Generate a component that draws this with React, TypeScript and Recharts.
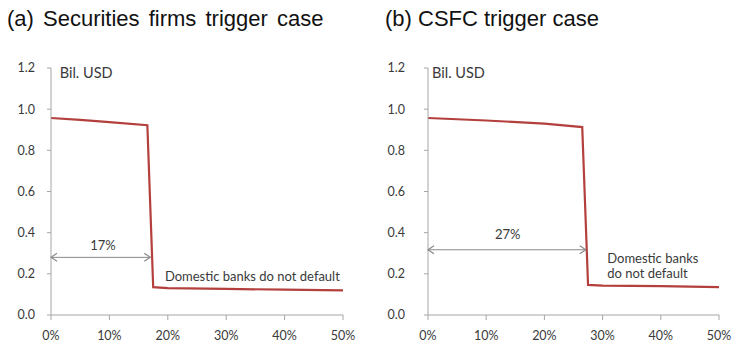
import React from 'react';
import { LineChart, Line, XAxis, YAxis, ReferenceDot } from 'recharts';

// Loss (Bil. USD) against the shock size (%), two trigger cases
const securitiesShock = [0, 5, 10, 16.5, 17.5, 20, 30, 40, 50];
const securitiesLoss = [0.957, 0.948, 0.937, 0.922, 0.135, 0.131, 0.127, 0.123, 0.12];
const csfcShock = [0, 10, 20, 26.5, 27.5, 30, 40, 50];
const csfcLoss = [0.957, 0.945, 0.93, 0.913, 0.146, 0.143, 0.14, 0.135];

const securitiesThreshold = 17;
const csfcThreshold = 27.1;

const yTicks = [0, 0.2, 0.4, 0.6, 0.8, 1.0, 1.2];
const xTicks = [0, 10, 20, 30, 40, 50];

const titles = ['(a) Securities firms trigger case', '(b) CSFC trigger case'];
const unitLabel = 'Bil. USD';
const noDefaultLabel = 'Domestic banks do not default';
const noDefaultLines = ['Domestic banks', 'do not default'];

const toPoints = (xs: number[], ys: number[]) => xs.map((x, i) => ({ x, y: ys[i] }));

const LINE = '#b3403d';
const AXIS = '#a6a6a6';
const TEXT = '#3a3a3a';
const ARROW = '#8a8a8a';
const FONT = 'Lato, "Open Sans", sans-serif';

const textLabel = (text: string, anchor: 'start' | 'middle' | 'end', size = 13) =>
  (props: any) => {
    const vb = props.viewBox || {};
    return (
      <text x={vb.x} y={vb.y} dy="0.35em" textAnchor={anchor} fill={TEXT} fontSize={size} fontFamily={FONT}>
        {text}
      </text>
    );
  };

const chevronDot = (props: any) => {
  const { cx, cy, index } = props;
  const d = index === 0
    ? `M${cx + 6},${cy - 4} L${cx},${cy} L${cx + 6},${cy + 4}`
    : `M${cx - 6},${cy - 4} L${cx},${cy} L${cx - 6},${cy + 4}`;
  return <path key={`chev-${index}`} d={d} fill="none" stroke={ARROW} strokeWidth={1.2} />;
};

const tickStyle = { fill: TEXT, fontSize: 12.5, fontFamily: FONT };

type PanelProps = {
  width: number;
  left: number;
  yAxisWidth: number;
  yTickMargin: number;
  rightMargin: number;
  data: { x: number; y: number }[];
  threshold: number;
  arrowY: number;
  pctLabel: { x: number; y: number };
  unitPos: { x: number; y: number };
  notes: { x: number; y: number; text: string }[];
};

function Panel(p: PanelProps) {
  const arrow = [
    { x: 0, y: p.arrowY },
    { x: p.threshold, y: p.arrowY },
  ];
  return (
    <div style={{ position: 'absolute', left: p.left, top: 0 }}>
      <LineChart
        width={p.width}
        height={346}
        margin={{ top: 68, right: p.rightMargin, bottom: 6, left: 11 }}
      >
        <XAxis
          type="number"
          dataKey="x"
          domain={[0, 50]}
          ticks={xTicks}
          tickFormatter={(v: number) => `${v}%`}
          axisLine={{ stroke: AXIS }}
          tickLine={{ stroke: AXIS }}
          tickSize={5}
          tickMargin={11}
          height={25}
          tick={tickStyle}
          interval={0}
        />
        <YAxis
          type="number"
          domain={[0, 1.2]}
          ticks={yTicks}
          tickFormatter={(v: number) => v.toFixed(1)}
          axisLine={{ stroke: AXIS }}
          tickLine={{ stroke: AXIS }}
          tickSize={4}
          tickMargin={p.yTickMargin}
          width={p.yAxisWidth}
          tick={tickStyle}
          interval={0}
        />
        <Line
          data={arrow}
          dataKey="y"
          stroke={ARROW}
          strokeWidth={1}
          dot={chevronDot}
          activeDot={false}
          isAnimationActive={false}
        />
        <Line
          data={p.data}
          dataKey="y"
          type="linear"
          stroke={LINE}
          strokeWidth={2.2}
          dot={false}
          activeDot={false}
          isAnimationActive={false}
        />
        <ReferenceDot
          x={p.pctLabel.x}
          y={p.pctLabel.y}
          r={0}
          fill="none"
          stroke="none"
          label={textLabel(`${Math.round(p.threshold)}%`, 'middle')}
        />
        <ReferenceDot
          x={p.unitPos.x}
          y={p.unitPos.y}
          r={0}
          fill="none"
          stroke="none"
          label={textLabel(unitLabel, 'start', 14.5)}
        />
        {p.notes.map((n, i) => (
          <ReferenceDot
            key={i}
            x={n.x}
            y={n.y}
            r={0}
            fill="none"
            stroke="none"
            label={textLabel(n.text, 'start')}
          />
        ))}
      </LineChart>
    </div>
  );
}

export default function App() {
  const titleStyle: React.CSSProperties = {
    position: 'absolute',
    top: 5,
    fontFamily: '"Liberation Sans", Arial, sans-serif',
    fontSize: 22,
    color: '#111',
    whiteSpace: 'nowrap',
    lineHeight: '28px',
  };
  return (
    <div style={{ position: 'absolute', left: 0, top: 0, width: 739, height: 346, background: '#fff', overflow: 'hidden' }}>
      <div style={{ ...titleStyle, left: 7, wordSpacing: 3 }}>{titles[0]}</div>
      <div style={{ ...titleStyle, left: 385 }}>{titles[1]}</div>
      <Panel
        width={357}
        left={0}
        yAxisWidth={40}
        yTickMargin={12}
        rightMargin={14}
        data={toPoints(securitiesShock, securitiesLoss)}
        threshold={securitiesThreshold}
        arrowY={0.28}
        pctLabel={{ x: 8.9, y: 0.34 }}
        unitPos={{ x: 1.5, y: 1.176 }}
        notes={[{ x: 19.5, y: 0.185, text: noDefaultLabel }]}
      />
      <Panel
        width={369}
        left={370}
        yAxisWidth={47}
        yTickMargin={19}
        rightMargin={20}
        data={toPoints(csfcShock, csfcLoss)}
        threshold={csfcThreshold}
        arrowY={0.317}
        pctLabel={{ x: 13.7, y: 0.389 }}
        unitPos={{ x: 0.7, y: 1.176 }}
        notes={[
          { x: 30.8, y: 0.277, text: noDefaultLines[0] },
          { x: 30.8, y: 0.204, text: noDefaultLines[1] },
        ]}
      />
    </div>
  );
}
